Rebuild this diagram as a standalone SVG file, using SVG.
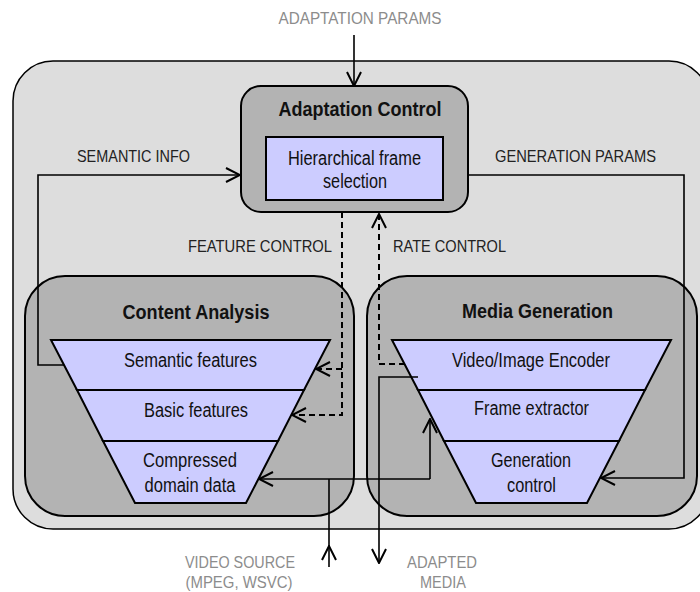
<svg xmlns="http://www.w3.org/2000/svg" width="700" height="592" viewBox="0 0 700 592">
<defs>
<style>
text{font-family:"Liberation Sans",Arial,sans-serif}
.frame{fill:#dddddd;stroke:#000;stroke-width:1.5}
.box{fill:#b3b3b3;stroke:#000;stroke-width:2}
.inner{fill:#ccccff;stroke:#000;stroke-width:2}
.title{font-size:19.5px;font-weight:bold;text-anchor:middle;fill:#111}
.body{font-size:20px;text-anchor:middle;fill:#111}
.lbl{font-size:16.5px;fill:#222}
.ext{font-size:16.5px;fill:#8c8c8c;text-anchor:middle}
.ln{fill:none;stroke:#000;stroke-width:1.6}
.dash{fill:none;stroke:#000;stroke-width:2;stroke-dasharray:6,4}
</style>
<marker id="ah" viewBox="0 0 16 16" refX="15" refY="8" markerWidth="16" markerHeight="16" markerUnits="userSpaceOnUse" orient="auto">
<path d="M1,1 L15,8 L1,15" fill="none" stroke="#000" stroke-width="2"/>
</marker>
</defs>
<text class="ext" x="360" y="24" textLength="163" lengthAdjust="spacingAndGlyphs">ADAPTATION PARAMS</text>
<g id="system">
<rect class="frame" x="13" y="61" width="696" height="468" rx="40"/>
</g>
<g id="adaptation-control">
<rect class="box" x="241" y="86" width="227" height="126" rx="20"/>
<text class="title" x="360" y="116" textLength="163" lengthAdjust="spacingAndGlyphs">Adaptation Control</text>
<rect class="inner" x="266" y="137" width="177" height="63"/>
<text class="body" x="354.5" y="165" textLength="133" lengthAdjust="spacingAndGlyphs">Hierarchical frame</text>
<text class="body" x="355" y="188" textLength="64" lengthAdjust="spacingAndGlyphs">selection</text>
</g>
<g id="content-analysis">
<rect class="box" x="25" y="276" width="329" height="240" rx="40"/>
<text class="title" x="196" y="319" textLength="147" lengthAdjust="spacingAndGlyphs">Content Analysis</text>
<polygon class="inner" points="51,340 330,340 304,390 77,390"/>
<polygon class="inner" points="77,390 304,390 278,441 103,441"/>
<polygon class="inner" points="103,441 278,441 246,503 135,503"/>
<text class="body" x="190.5" y="367" textLength="133" lengthAdjust="spacingAndGlyphs">Semantic features</text>
<text class="body" x="196" y="417" textLength="104" lengthAdjust="spacingAndGlyphs">Basic features</text>
<text class="body" x="190" y="467" textLength="94" lengthAdjust="spacingAndGlyphs">Compressed</text>
<text class="body" x="190" y="492" textLength="91" lengthAdjust="spacingAndGlyphs">domain data</text>
</g>
<g id="media-generation">
<rect class="box" x="367" y="276" width="330" height="240" rx="40"/>
<text class="title" x="537.5" y="318" textLength="151" lengthAdjust="spacingAndGlyphs">Media Generation</text>
<polygon class="inner" points="392,340 671,340 645,390 418,390"/>
<polygon class="inner" points="418,390 645,390 619,441 444,441"/>
<polygon class="inner" points="444,441 619,441 587,503 476,503"/>
<text class="body" x="531" y="367" textLength="158" lengthAdjust="spacingAndGlyphs">Video/Image Encoder</text>
<text class="body" x="531.5" y="415" textLength="115" lengthAdjust="spacingAndGlyphs">Frame extractor</text>
<text class="body" x="531" y="467" textLength="80" lengthAdjust="spacingAndGlyphs">Generation</text>
<text class="body" x="531.5" y="492" textLength="49" lengthAdjust="spacingAndGlyphs">control</text>
</g>
<g id="connectors">
<path class="ln" d="M354,35 V86" marker-end="url(#ah)"/>
<path class="ln" d="M64,365 H38 V175 H240" marker-end="url(#ah)"/>
<path class="ln" d="M468,175 H684 V478 H601" marker-end="url(#ah)"/>
<path class="dash" d="M342,212 V415 H292" marker-end="url(#ah)"/>
<path class="dash" d="M342,369 H316" marker-end="url(#ah)"/>
<path class="dash" d="M405,364 H379 V214" marker-end="url(#ah)"/>
<path class="ln" d="M418,377 H379 V563" marker-end="url(#ah)"/>
<path class="ln" d="M329,567 V546" marker-end="url(#ah)"/>
<path class="ln" d="M329,546 V479"/>
<path class="ln" d="M430,479 H259" marker-end="url(#ah)"/>
<path class="ln" d="M430,479 V419" marker-end="url(#ah)"/>
</g>
<text class="lbl" x="77" y="162" textLength="113" lengthAdjust="spacingAndGlyphs">SEMANTIC INFO</text>
<text class="lbl" x="495" y="162" textLength="161" lengthAdjust="spacingAndGlyphs">GENERATION PARAMS</text>
<text class="lbl" x="188" y="252" textLength="144" lengthAdjust="spacingAndGlyphs">FEATURE CONTROL</text>
<text class="lbl" x="393" y="252" textLength="113" lengthAdjust="spacingAndGlyphs">RATE CONTROL</text>
<text class="ext" x="240" y="568" textLength="110" lengthAdjust="spacingAndGlyphs">VIDEO SOURCE</text>
<text class="ext" x="239" y="588" textLength="107" lengthAdjust="spacingAndGlyphs">(MPEG, WSVC)</text>
<text class="ext" x="442" y="568" textLength="70" lengthAdjust="spacingAndGlyphs">ADAPTED</text>
<text class="ext" x="443" y="588" textLength="46" lengthAdjust="spacingAndGlyphs">MEDIA</text>
</svg>
